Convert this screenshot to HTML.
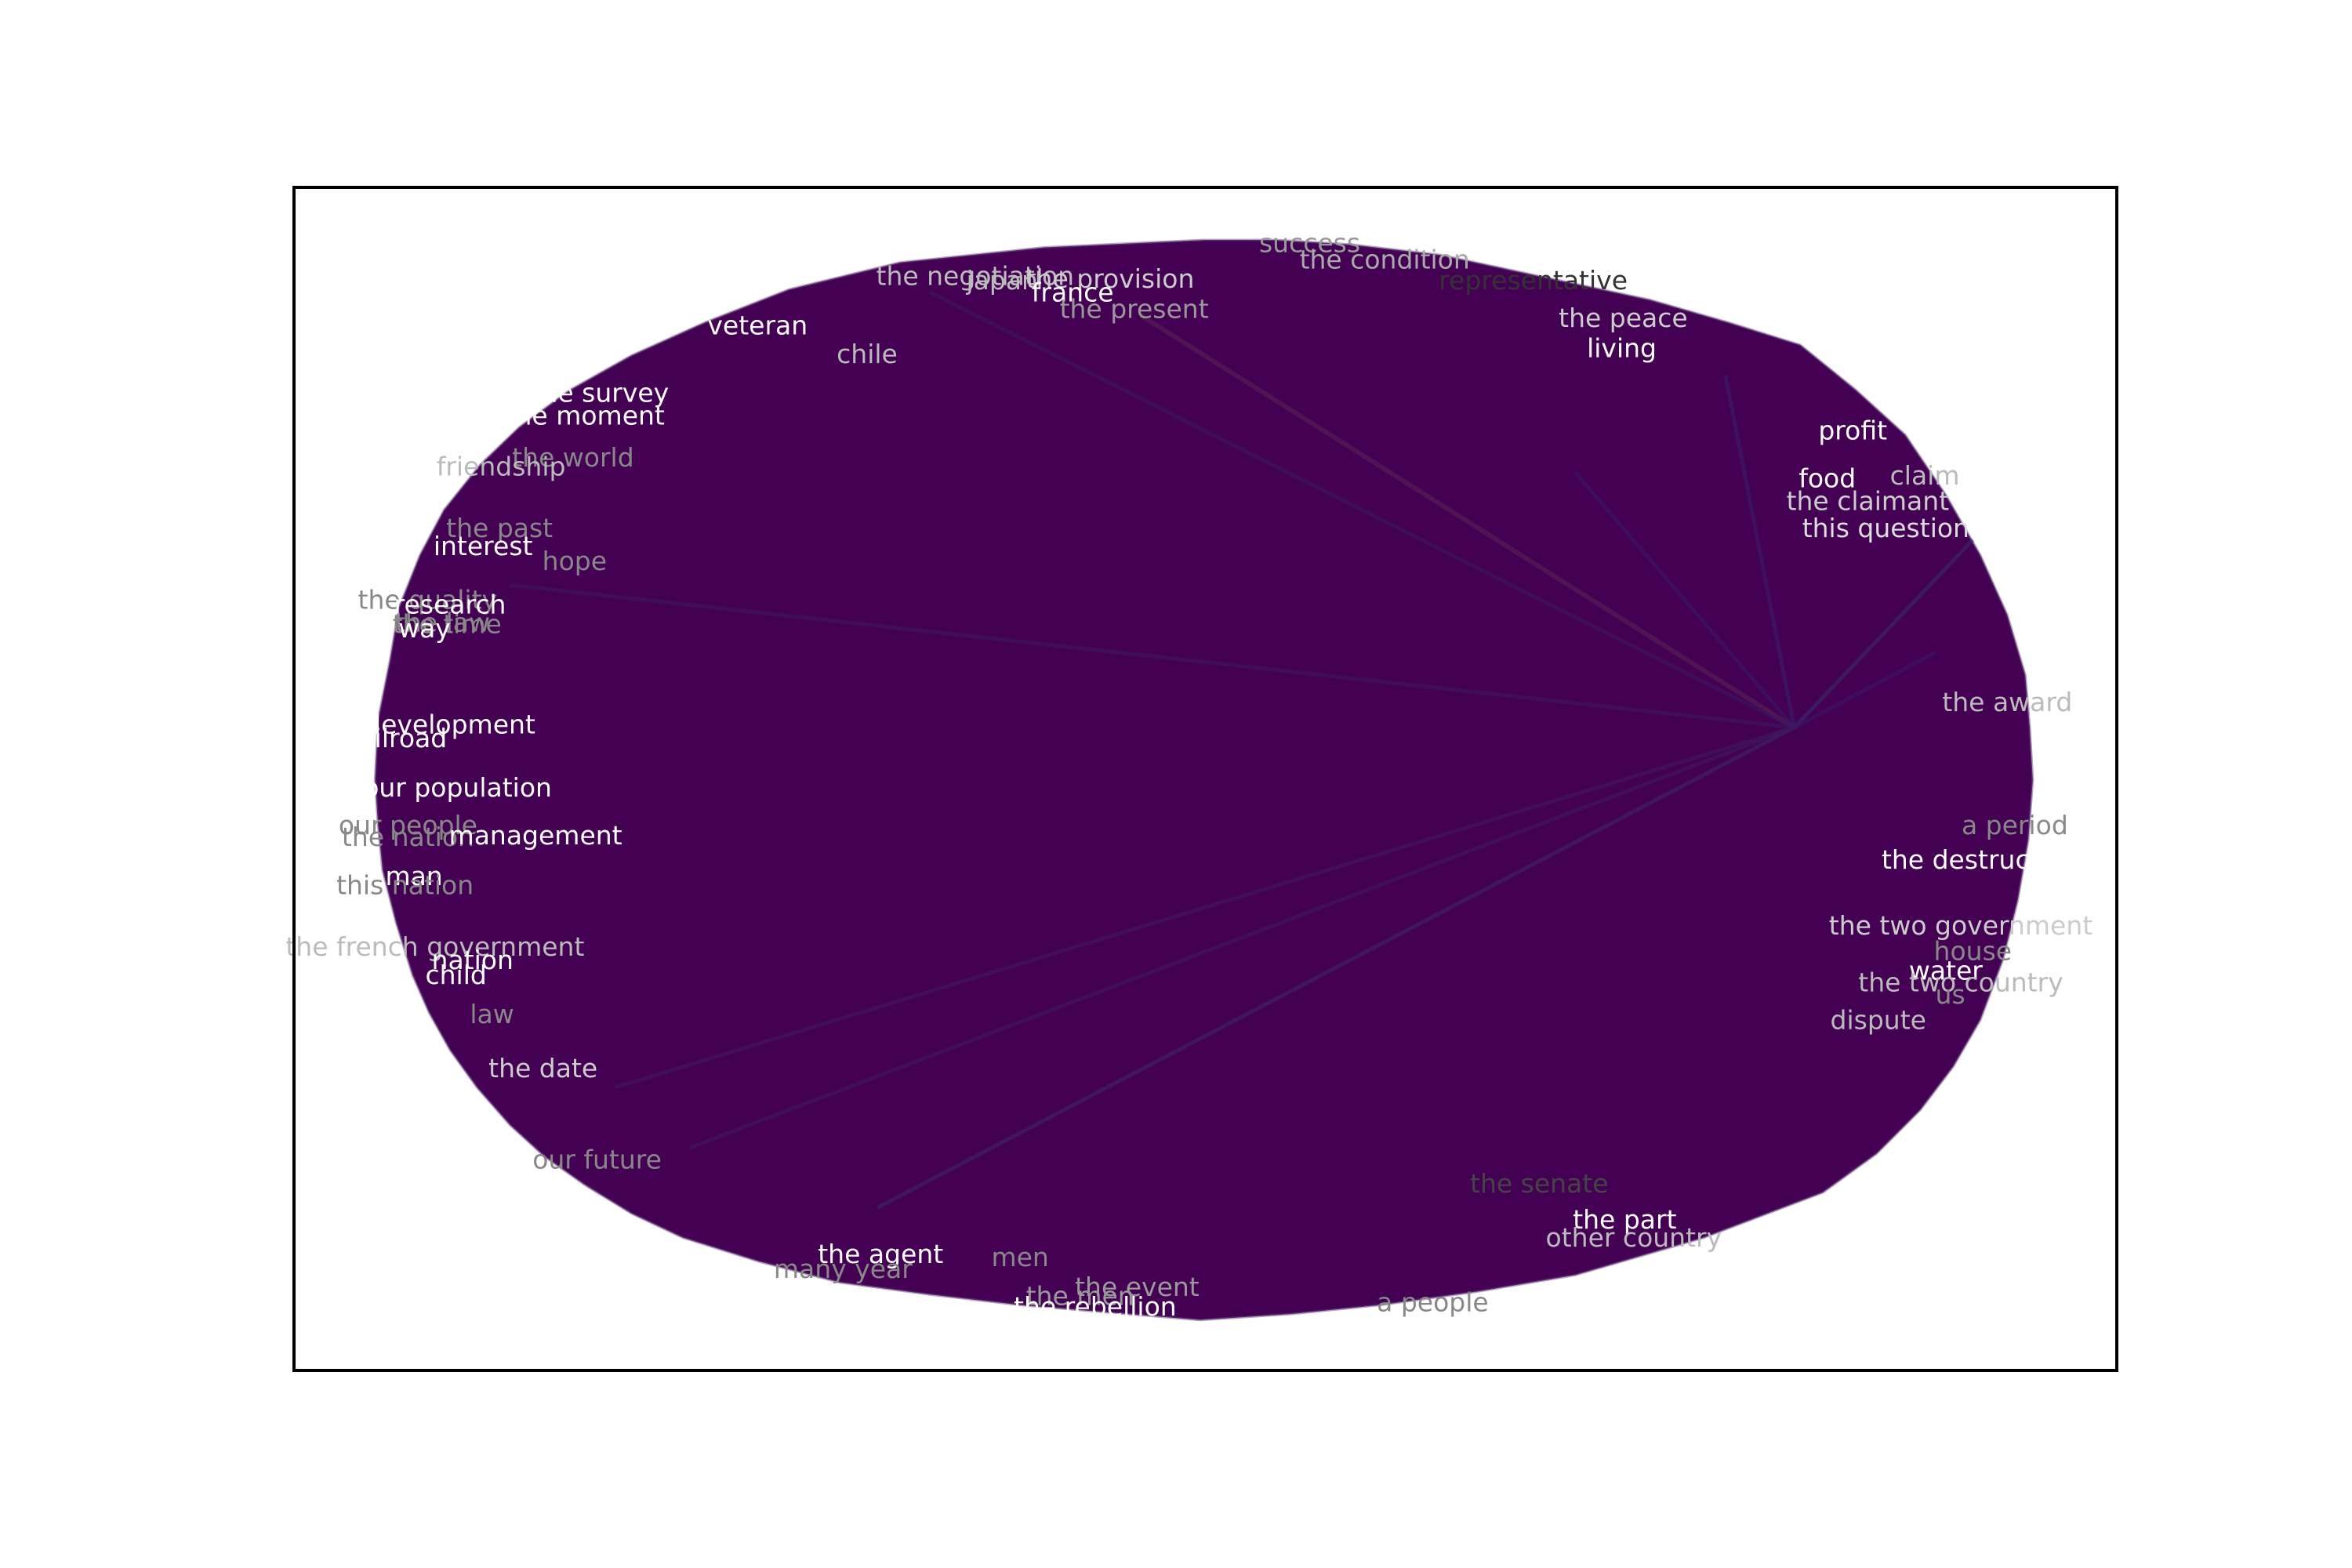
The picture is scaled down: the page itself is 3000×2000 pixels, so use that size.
<!DOCTYPE html>
<html><head><meta charset="utf-8">
<style>
html,body{margin:0;padding:0;background:#fff;}
svg{display:block;}
text{font-family:"DejaVu Sans","Liberation Sans",sans-serif;font-size:33px;}
</style></head>
<body>
<svg id="chart" width="3000" height="2000" viewBox="0 0 3000 2000" xmlns="http://www.w3.org/2000/svg">
<g id="layer-fill"></g>
<g id="layer-edges"></g>
<g id="layer-labels"></g>
<rect x="375" y="239" width="2325" height="1509" fill="none" stroke="#000" stroke-width="4"/>
</svg>
<script>
// data coordinates (layout units inside frame)
const hub = [1000, 360];
const hullX = [607,500,404,330,274,225,184,150,124,100,84,70,64,56,54,56,59,68,79,90,104,122,144,167,194,225,259,310,364,424,484,544,604,664,724,789,854,940,1019,1055,1084,1106,1124,1139,1149,1156,1159,1157,1154,1142,1124,1101,1074,1041,1004,956,904,834,764,704,654];
const hullY = [35,40,50,68,90,112,135,160,185,215,245,280,315,355,395,425,455,490,525,550,575,600,625,646,665,684,700,716,730,738,745,750,755,751,745,736,725,700,670,644,615,586,555,515,475,435,395,360,325,285,245,205,165,135,105,90,75,60,45,38,35];
const labels = ["success","the condition","representative","the negotiation","japan","the provision","france","the present","veteran","chile","the peace","living","the survey","the moment","the world","friendship","profit","food","claim","the claimant","this question","the past","our interest","hope","the quality","the law","the time","research","way","the award","development","railroad","our population","a period","our people","the nation","management","the destruction","man","this nation","the two government","the french government","nation","house","child","water","the two country","us","dispute","law","the date","our future","the senate","the part","other country","the agent","men","many year","the event","the men","the rebellion","a people"];
const labelX = [677,727,826,454,472,544,519,560,309,382,886,885,204,194,186,138,1039,1022,1087,1049,1061,137,109,187,89,99,102,104,87,1142,104,69,109,1147,76,76,161,1124,80,74,1111,94,119,1119,108,1101,1111,1104,1056,132,166,202,830,887,893,391,484,366,562,524,534,759];
const labelY = [37,48,62,59,62,61,70,81,92,111,87,107,137,152,180,186,162,194,192,209,227,227,239,249,275,290,291,278,294,343,358,367,400,425,425,433,432,448,459,465,492,506,515,509,525,522,530,538,555,551,587,648,664,688,700,711,713,721,733,739,746,743];
const labelColor = ["#999","#aaa","#333","#bbb","#bbb","#ccc","#fff","#999","#fff","#bbb","#ccc","#fff","#fff","#fff","#888","#bbb","#fff","#fff","#bbb","#ccc","#ddd","#888","#fff","#888","#888","#888","#888","#fff","#fff","#bbb","#fff","#fff","#fff","#888","#888","#888","#fff","#fff","#fff","#888","#ccc","#bbb","#fff","#888","#fff","#fff","#bbb","#888","#bbb","#888","#ccc","#888","#444","#fff","#bbb","#fff","#888","#888","#999","#999","#fff","#888"];
const edgeX = [564,389,214,954,1119,1094,144,424,264,854];
const edgeY = [85,680,600,125,235,310,265,70,640,190];
const edgeColor = ["#5a2450","#3a2a6a","#3f1a60","#3a1f66","#35306b","#3a1a62","#3d1a5e","#3b1a60","#3e1a60","#3b1a62"];

const SX = 1.9136, X0 = 375, Y0 = 239;
const sx = v => X0 + v*SX;
const sy = v => Y0 + v*SX;
const NS = "http://www.w3.org/2000/svg";

const fillG = document.getElementById('layer-fill');
const poly = document.createElementNS(NS,'polygon');


poly.setAttribute('points', hullX.map((x,i)=>sx(x)+','+sy(hullY[i])).join(' '));
poly.setAttribute('fill','#440154');
poly.setAttribute('stroke','#6a4a80');
poly.setAttribute('stroke-opacity','0.5');
poly.setAttribute('stroke-width','3');
poly.setAttribute('stroke-linejoin','round');
fillG.appendChild(poly);

const edgeG = document.getElementById('layer-edges');
edgeX.forEach((x,i)=>{
  const l = document.createElementNS(NS,'line');
  
  
  l.setAttribute('x1',sx(hub[0])); l.setAttribute('y1',sy(hub[1]));
  l.setAttribute('x2',sx(x)); l.setAttribute('y2',sy(edgeY[i]));
  l.setAttribute('stroke',edgeColor[i]);
  l.setAttribute('stroke-opacity','0.55');
  l.setAttribute('stroke-width', i===0 ? 6 : 5);
  edgeG.appendChild(l);
});

const labG = document.getElementById('layer-labels');
labels.forEach((t,i)=>{
  const e = document.createElementNS(NS,'text');
  
  
  e.setAttribute('x',sx(labelX[i]));
  e.setAttribute('y',sy(labelY[i]));
  e.setAttribute('text-anchor','middle');
  e.setAttribute('dominant-baseline','central');
  e.setAttribute('fill',labelColor[i]);
  e.textContent = t;
  labG.appendChild(e);
});
</script>
</body></html>
